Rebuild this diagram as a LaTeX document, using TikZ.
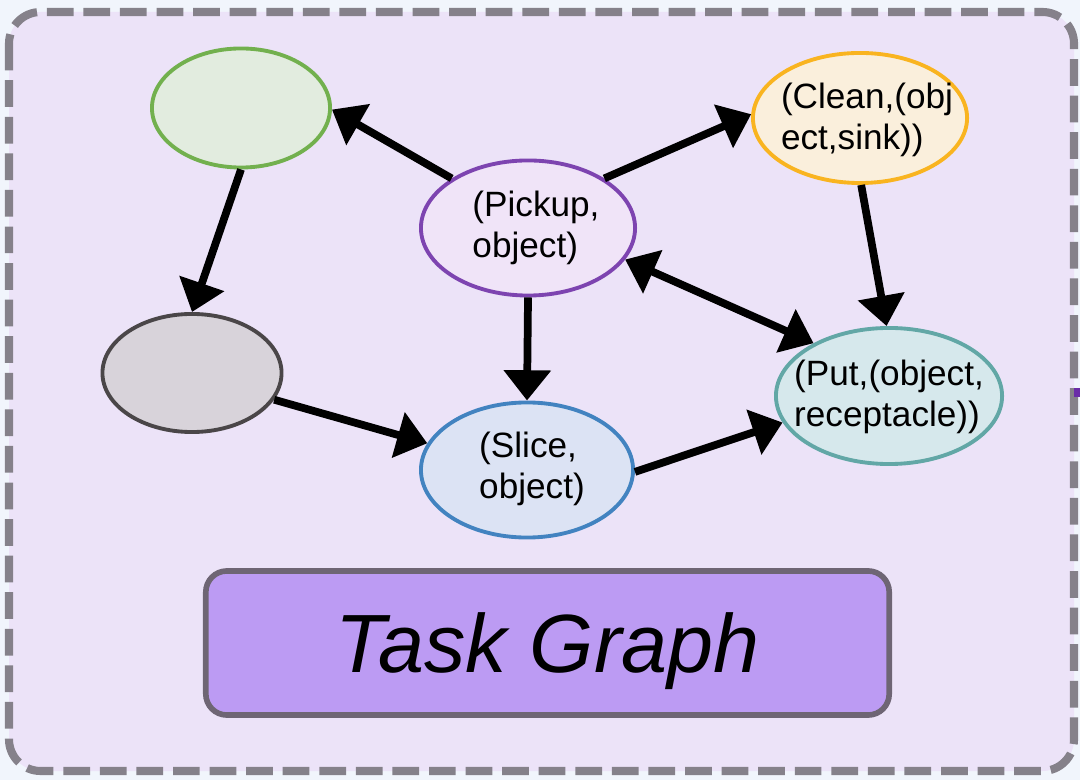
\documentclass[tikz,border=0pt]{standalone}
\usepackage{fontspec}
\setmainfont{Liberation Sans}
\usetikzlibrary{arrows.meta,positioning,shapes.geometric}
\definecolor{graphOuterBg}{RGB}{241, 245, 252}
\definecolor{graphInnerBg}{RGB}{236, 227, 248}
\definecolor{graphDash}{RGB}{133, 129, 138}
\definecolor{graphMark}{RGB}{106, 44, 168}
\definecolor{graphGreen}{RGB}{114, 176, 78}
\definecolor{graphLightGreen}{RGB}{226, 236, 223}
\definecolor{graphGray}{RGB}{74, 70, 72}
\definecolor{graphLightGray}{RGB}{216, 211, 218}
\definecolor{graphPurple}{RGB}{125, 68, 176}
\definecolor{graphLightPurple}{RGB}{240, 228, 248}
\definecolor{graphOrange}{RGB}{249, 180, 32}
\definecolor{graphLightOrange}{RGB}{250, 239, 220}
\definecolor{graphBlue}{RGB}{66, 131, 192}
\definecolor{graphLightBlue}{RGB}{220, 227, 244}
\definecolor{graphTeal}{RGB}{98, 167, 166}
\definecolor{graphLightTeal}{RGB}{214, 232, 236}
\definecolor{graphTitle}{RGB}{188, 155, 243}
\definecolor{graphTitleEdge}{RGB}{110, 101, 116}

\begin{document}
\begin{tikzpicture}[
  x=0.01cm, y=-0.01cm,
  task/.style={
    draw,
    ellipse,
    line width=1.1pt,
    inner sep=0pt
  },
  tasktext/.style={
    align=left,
    font=\fontsize{10}{11.7}\selectfont
  },
  titlebox/.style={
    draw=graphTitleEdge,
    fill=graphTitle,
    line width=1.6pt,
    rounded corners=6pt,
    minimum width=6.83cm,
    minimum height=1.44cm,
    text height=17pt,
    text depth=0pt,
    font=\fontsize{23.5}{26}\selectfont\itshape
  },
  arrow/.style={-{Triangle[length=8.6pt,width=13pt]},line width=2.2pt}
]
  \useasboundingbox (0,0) rectangle (1080,780);
  \fill[graphOuterBg] (0,0) rectangle (1080,780);
  \draw[graphDash,fill=graphInnerBg,line width=2.3pt,
    dash pattern=on 7.6pt off 2.8pt,rounded corners=9pt]
    (9,12) rectangle (1074,771);
  \fill[graphMark] (1074,388) rectangle (1080,397);

  % task states
  \node[task,draw=graphGreen,fill=graphLightGreen,
    minimum width=1.78cm,minimum height=1.19cm] (start) at (241,108) {};
  \node[task,draw=graphGray,fill=graphLightGray,
    minimum width=1.79cm,minimum height=1.18cm] (idle) at (192,373) {};
  \node[task,draw=graphPurple,fill=graphLightPurple,
    minimum width=2.14cm,minimum height=1.35cm] (pickup) at (528,228) {};
  \node[task,draw=graphOrange,fill=graphLightOrange,
    minimum width=2.14cm,minimum height=1.30cm] (clean) at (860,118) {};
  \node[task,draw=graphBlue,fill=graphLightBlue,
    minimum width=2.12cm,minimum height=1.35cm] (slice) at (527,470) {};
  \node[task,draw=graphTeal,fill=graphLightTeal,
    minimum width=2.26cm,minimum height=1.36cm] (put) at (889,396) {};

  \node[tasktext] (pickuptext) at (536,228) {(Pickup,\\object)};
  \node[tasktext] (cleantext) at (867,120) {(Clean,(obj\\ect,sink))};
  \node[tasktext] (slicetext) at (532,469) {(Slice,\\object)};
  \node[tasktext] (puttext) at (889,397) {(Put,(object,\\receptacle))};

  \draw[arrow] (pickup.147) -- (start.-1);
  \draw[arrow] (pickup.33) -- (clean.178);
  \draw[arrow,{Triangle[length=8.6pt,width=13pt]}-{Triangle[length=8.6pt,width=13pt]}]
    (pickup.-18) -- (put.145);
  \draw[arrow] (pickup.south) -- (slice.north);
  \draw[arrow] (start.south) -- (idle.north);
  \draw[arrow] (idle.-18) -- (slice.165);
  \draw[arrow] (slice.-1) -- (put.194);
  \draw[arrow] (clean.271) -- (put.92);

  \node[titlebox] (title) at (547.5,643) {Task Graph};
\end{tikzpicture}
\end{document}
